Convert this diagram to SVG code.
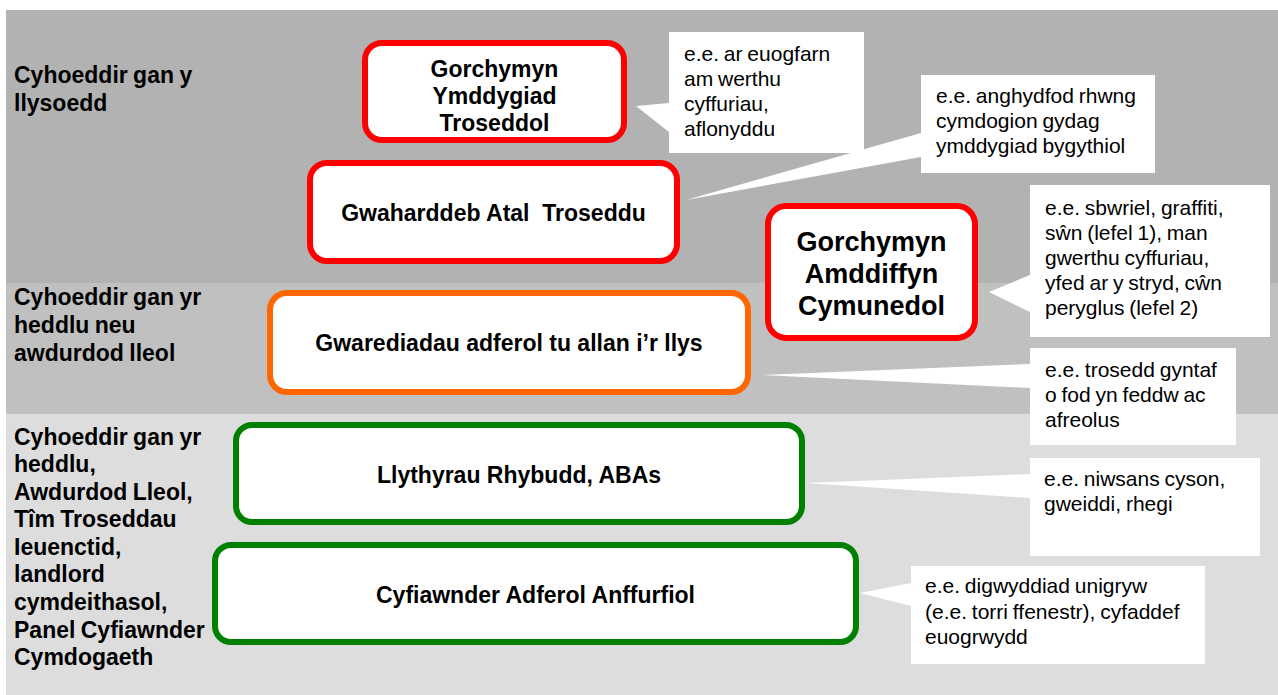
<svg xmlns="http://www.w3.org/2000/svg" width="1278" height="695" viewBox="0 0 1278 695">
<defs>
<style>
.bg{fill:#ffffff}
.band1{fill:#b2b2b2}
.band2{fill:#c0c0c0}
.band3{fill:#dddddd}
.box{fill:#ffffff;stroke-width:6}
.red{stroke:#ff0000}
.orange{stroke:#ff6600}
.green{stroke:#008000}
.call{fill:#ffffff;stroke:none}
.lbl{font-family:"Liberation Sans",Arial,sans-serif;font-weight:bold;font-size:23px;fill:#000000;word-spacing:-1px}
.bt{font-family:"Liberation Sans",Arial,sans-serif;font-weight:bold;font-size:23px;fill:#000000;text-anchor:middle}
.big{font-size:27px}
.ct{font-family:"Liberation Sans",Arial,sans-serif;font-size:21px;fill:#000000;word-spacing:-1px}
</style>
</defs>
<rect class="bg" x="0" y="0" width="1278" height="695"/>
<g id="bands">
<rect class="band1" x="6" y="10" width="1272" height="273"/>
<rect class="band2" x="6" y="283" width="1272" height="131"/>
<rect class="band3" x="6" y="414" width="1272" height="281"/>
</g>
<g id="label-courts">
<text class="lbl" x="14" y="83">Cyhoeddir gan y</text>
<text class="lbl" x="14" y="111">llysoedd</text>
</g>
<g id="label-police">
<text class="lbl" x="14" y="305">Cyhoeddir gan yr</text>
<text class="lbl" x="14" y="333">heddlu neu</text>
<text class="lbl" x="14" y="361">awdurdod lleol</text>
</g>
<g id="label-agencies">
<text class="lbl" x="14" y="445">Cyhoeddir gan yr</text>
<text class="lbl" x="14" y="472">heddlu,</text>
<text class="lbl" x="14" y="500">Awdurdod Lleol,</text>
<text class="lbl" x="14" y="527">Tîm Troseddau</text>
<text class="lbl" x="14" y="555">Ieuenctid,</text>
<text class="lbl" x="14" y="582">landlord</text>
<text class="lbl" x="14" y="610">cymdeithasol,</text>
<text class="lbl" x="14" y="638">Panel Cyfiawnder</text>
<text class="lbl" x="14" y="665">Cymdogaeth</text>
</g>
<g id="connectors">
<polygon class="call" points="669,103 636,106 669,132"/>
<polygon class="call" points="921,133 686,200 921,157"/>
<polygon class="call" points="1030,275 989,292 1030,312"/>
<polygon class="call" points="1030,364 762,375 1030,388"/>
<polygon class="call" points="1030,474 806,483 1030,498"/>
<polygon class="call" points="911,583 860,593 911,606"/>
</g>
<g id="node-cbo">
<rect class="box red" x="365" y="43" width="259" height="97" rx="17"/>
<text class="bt" x="494.5" y="77">Gorchymyn</text>
<text class="bt" x="494.5" y="104">Ymddygiad</text>
<text class="bt" x="494.5" y="131">Troseddol</text>
</g>
<g id="node-injunction">
<rect class="box red" x="310" y="163" width="367" height="98" rx="17"/>
<text class="bt" x="493.5" y="221">Gwaharddeb Atal&#160; Troseddu</text>
</g>
<g id="node-cpn">
<rect class="box red" x="768" y="206" width="207" height="132" rx="18"/>
<text class="bt big" x="871.5" y="251">Gorchymyn</text>
<text class="bt big" x="871.5" y="283">Amddiffyn</text>
<text class="bt big" x="871.5" y="315">Cymunedol</text>
</g>
<g id="node-outofcourt">
<rect class="box orange" x="270" y="293" width="478" height="99" rx="17"/>
<text class="bt" x="509" y="351">Gwarediadau adferol tu allan i’r llys</text>
</g>
<g id="node-warning">
<rect class="box green" x="236" y="425" width="566" height="97" rx="16"/>
<text class="bt" x="519" y="483">Llythyrau Rhybudd, ABAs</text>
</g>
<g id="node-restorative">
<rect class="box green" x="215" y="545" width="641" height="97" rx="16"/>
<text class="bt" x="535.5" y="603">Cyfiawnder Adferol Anffurfiol</text>
</g>
<g id="callout-1">
<rect class="call" x="669" y="32" width="195" height="121"/>
<text class="ct" x="684" y="61">e.e. ar euogfarn</text>
<text class="ct" x="684" y="86">am werthu</text>
<text class="ct" x="684" y="111">cyffuriau,</text>
<text class="ct" x="684" y="136">aflonyddu</text>
</g>
<g id="callout-2">
<rect class="call" x="921" y="75" width="234" height="98"/>
<text class="ct" x="936" y="103">e.e. anghydfod rhwng</text>
<text class="ct" x="936" y="128">cymdogion gydag</text>
<text class="ct" x="936" y="153">ymddygiad bygythiol</text>
</g>
<g id="callout-3">
<rect class="call" x="1030" y="185" width="240" height="152"/>
<text class="ct" x="1045" y="215">e.e. sbwriel, graffiti,</text>
<text class="ct" x="1045" y="240">sŵn (lefel 1), man</text>
<text class="ct" x="1045" y="265">gwerthu cyffuriau,</text>
<text class="ct" x="1045" y="290">yfed ar y stryd, cŵn</text>
<text class="ct" x="1045" y="315">peryglus (lefel 2)</text>
</g>
<g id="callout-4">
<rect class="call" x="1030" y="348" width="206" height="97"/>
<text class="ct" x="1045" y="377">e.e. trosedd gyntaf</text>
<text class="ct" x="1045" y="402">o fod yn feddw ac</text>
<text class="ct" x="1045" y="427">afreolus</text>
</g>
<g id="callout-5">
<rect class="call" x="1030" y="458" width="230" height="98"/>
<text class="ct" x="1044" y="486">e.e. niwsans cyson,</text>
<text class="ct" x="1044" y="511">gweiddi, rhegi</text>
</g>
<g id="callout-6">
<rect class="call" x="911" y="566" width="294" height="98"/>
<text class="ct" x="925" y="593">e.e. digwyddiad unigryw</text>
<text class="ct" x="925" y="619">(e.e. torri ffenestr), cyfaddef</text>
<text class="ct" x="925" y="644">euogrwydd</text>
</g>
</svg>
